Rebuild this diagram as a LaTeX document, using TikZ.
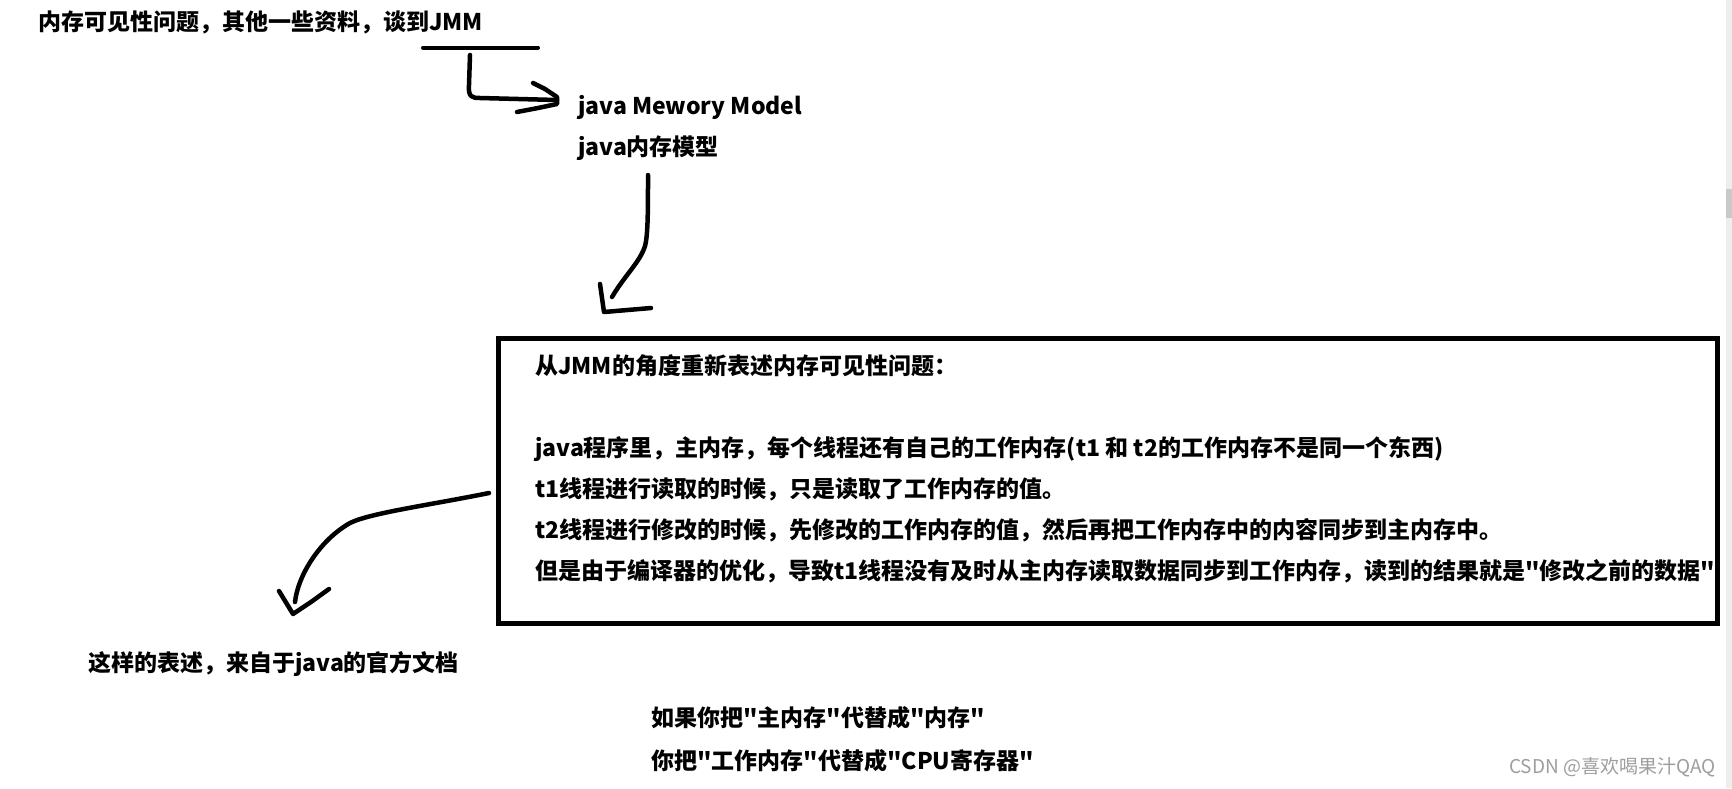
\documentclass[tikz,border=0pt]{standalone}
\usepackage{fontspec}
\newfontfamily\cjk{Noto Sans CJK SC}
\newfontfamily\wmfont{Noto Sans CJK SC}
\begin{document}
\begin{tikzpicture}[x=1pt,y=-1pt,
  txt/.style={anchor=west,inner sep=0pt,font=\cjk\fontsize{23}{28}\selectfont\bfseries,text height=0.88em,text depth=0.12em},
  ink/.style={line width=4.5pt,line cap=round,line join=round,black},
  boxstyle/.style={draw=black,line width=5pt,fill=none}]
\useasboundingbox (0,0) rectangle (1732,788);
\fill[white] (0,0) rectangle (1732,788);
% scrollbar
\fill[black!7] (1726,0) rectangle (1732,788);
\fill[black!21] (1726,189) rectangle (1732,218);

% texts
\node[txt] (title) at (38,27) {内存可见性问题，其他一些资料，谈到JMM};
\node[txt] (jmmen) at (578,111) {java Mewory Model};
\node[txt] (jmmcn) at (578,152) {java内存模型};

\draw[boxstyle] (498.5,338.5) rectangle (1717.5,623.5);
\coordinate (boxleft) at (489,493);
\node[txt] (b1) at (535,371) {从JMM的角度重新表述内存可见性问题：};
\node[txt] (b2) at (535,453) {java程序里，主内存，每个线程还有自己的工作内存(t1 和 t2的工作内存不是同一个东西)};
\node[txt] (b3) at (535,494) {t1线程进行读取的时候，只是读取了工作内存的值。};
\node[txt] (b4) at (535,535) {t2线程进行修改的时候，先修改的工作内存的值，然后再把工作内存中的内容同步到主内存中。};
\node[txt] (b5) at (535,576) {但是由于编译器的优化，导致t1线程没有及时从主内存读取数据同步到工作内存，读到的结果就是"修改之前的数据"};

\node[txt] (doc) at (88,668) {这样的表述，来自于java的官方文档};
\node[txt] (r1) at (651,723) {如果你把"主内存"代替成"内存"};
\node[txt] (r2) at (651,766) {你把"工作内存"代替成"CPU寄存器"};
\node[anchor=west,inner sep=0pt,text=black!38,font=\wmfont\fontsize{19}{22}\selectfont,text height=0.88em,text depth=0.12em] (wm) at (1509,770) {CSDN @喜欢喝果汁QAQ};

% underline under JMM
\coordinate (ulA) at (423,47.5);
\coordinate (ulB) at (538,47.5);
\draw[ink,line width=4pt] (ulA) -- (ulB);

% hook arrow
\coordinate (h1) at (470,55);
\coordinate (h3) at (480,98);
\coordinate (htip) at (557,100);
\draw[ink] (h1) -- (469,85) .. controls (468,97) and (472,98) .. (h3) -- (htip);
\draw[ink] (533,83) -- (545,89) -- (557,97) -- (557,104) -- (538,108) -- (517,112);

% arrow 2
\coordinate (a2s) at (648,175);
\coordinate (a2e) at (612,297);
\draw[ink] (a2s) .. controls (648,210) and (648,235) .. (645,246) .. controls (640,262) and (625,275) .. (a2e);
\draw[ink] (600,284) -- (604,312) -- (651,308);

% arrow 3
\coordinate (a3e) at (295,602);
\draw[ink] (boxleft) .. controls (430,505) and (370,513) .. (350,523) .. controls (320,540) and (298,575) .. (a3e);
\draw[ink] (279,591) -- (293,614) -- (311,602) -- (329,589);
\end{tikzpicture}
\end{document}
